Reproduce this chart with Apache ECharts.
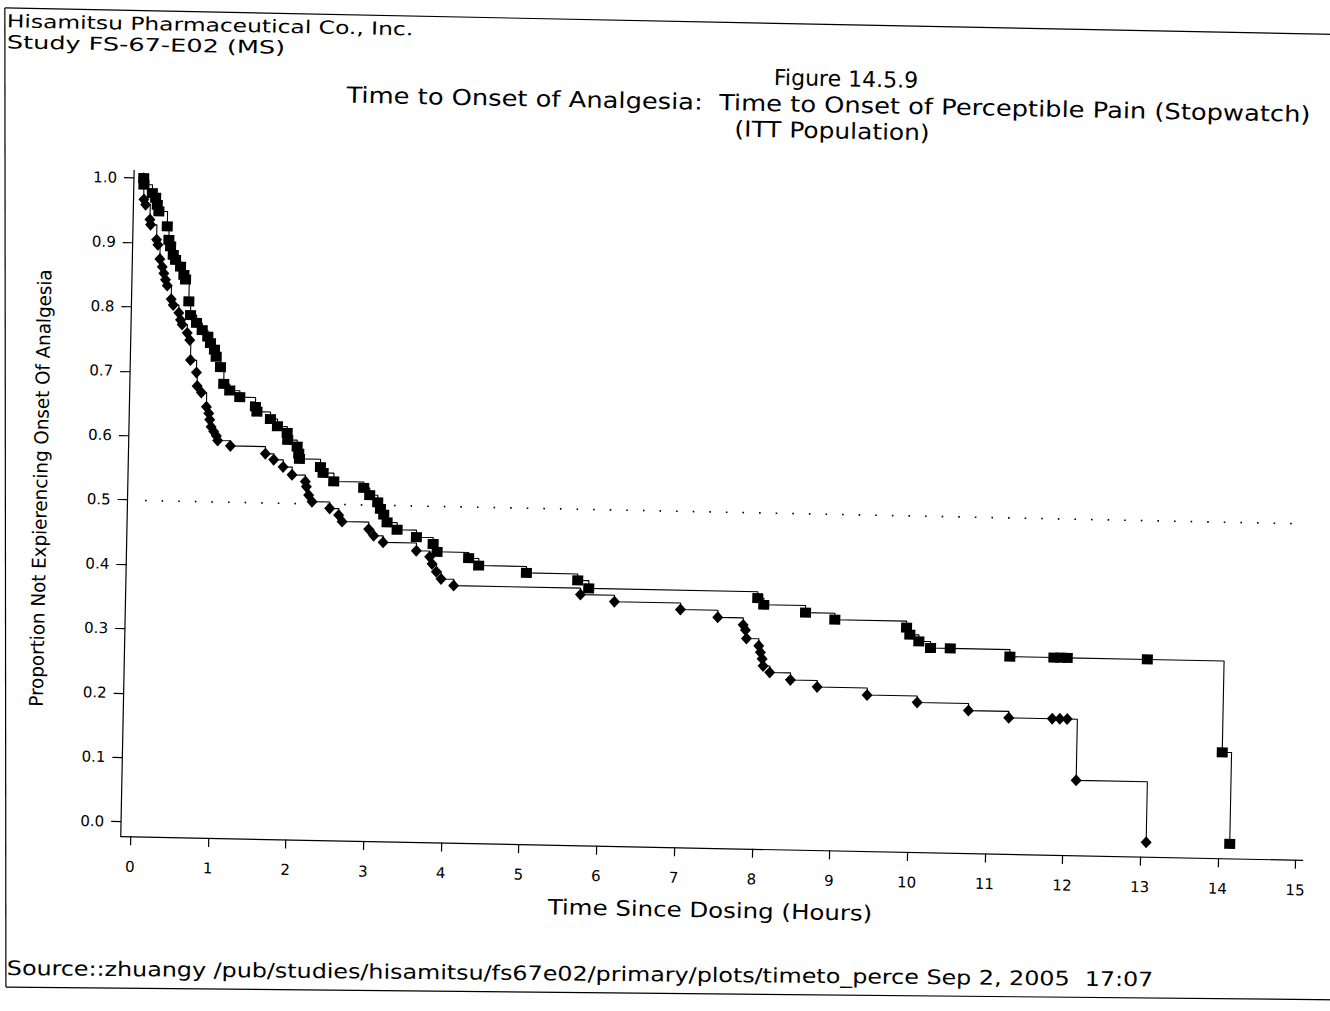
<!DOCTYPE html>
<html>
<head>
<meta charset="utf-8">
<script src="https://cdn.jsdelivr.net/npm/echarts@6/dist/echarts.min.js"></script>
<style>
html,body{margin:0;padding:0;width:1330px;height:1011px;overflow:hidden;background:#fff}
#wrap{position:absolute;left:-20px;top:-20px;width:1370px;height:1051px;transform:rotate(1.15deg);transform-origin:50% 50%;}
#chart{width:1370px;height:1051px}
</style>
</head>
<body>
<div id="wrap"><div id="chart"></div></div>
<script>
// Upper curve (squares): time in hours, proportion not experiencing onset
const sqTime = [0.0, 0.005, 0.115, 0.159, 0.182, 0.204, 0.316, 0.340, 0.364, 0.400, 0.431, 0.497, 0.542, 0.565, 0.613, 0.638, 0.717, 0.792, 0.866, 0.902, 0.955, 0.979, 1.037, 1.083, 1.162, 1.293, 1.497, 1.518, 1.693, 1.785, 1.912, 1.921, 2.044, 2.066, 2.077, 2.349, 2.385, 2.524, 2.911, 2.990, 3.095, 3.132, 3.176, 3.221, 3.352, 3.602, 3.819, 3.872, 4.280, 4.411, 5.027, 5.689, 5.833, 8.011, 8.090, 8.629, 9.008, 9.933, 9.977, 10.095, 10.247, 10.501, 11.270, 11.837, 11.923, 12.009, 13.040, 14.028, 14.148];
const sqSurv = [1.000, 0.990, 0.977, 0.970, 0.959, 0.949, 0.926, 0.905, 0.895, 0.882, 0.874, 0.864, 0.851, 0.844, 0.810, 0.789, 0.777, 0.766, 0.756, 0.746, 0.736, 0.725, 0.709, 0.683, 0.673, 0.663, 0.649, 0.641, 0.630, 0.619, 0.609, 0.598, 0.588, 0.577, 0.569, 0.557, 0.548, 0.535, 0.526, 0.515, 0.504, 0.494, 0.485, 0.473, 0.462, 0.451, 0.441, 0.429, 0.420, 0.409, 0.399, 0.389, 0.377, 0.367, 0.357, 0.346, 0.336, 0.326, 0.315, 0.305, 0.295, 0.295, 0.284, 0.284, 0.284, 0.284, 0.284, 0.142, 0.000];
// Lower curve (diamonds)
const dmTime = [0.0, 0.008, 0.032, 0.091, 0.101, 0.182, 0.200, 0.229, 0.262, 0.284, 0.307, 0.331, 0.385, 0.413, 0.487, 0.510, 0.533, 0.600, 0.635, 0.649, 0.729, 0.741, 0.798, 0.866, 0.898, 0.912, 0.932, 0.966, 1.002, 1.020, 1.185, 1.637, 1.746, 1.869, 1.986, 2.159, 2.173, 2.205, 2.250, 2.479, 2.596, 2.642, 2.986, 3.052, 3.175, 3.605, 3.778, 3.811, 3.868, 3.930, 4.094, 5.728, 6.167, 7.019, 7.501, 7.830, 7.861, 7.876, 8.036, 8.059, 8.083, 8.097, 8.184, 8.452, 8.798, 9.443, 10.089, 10.751, 11.272, 11.831, 11.929, 12.024, 12.155, 13.072];
const dmSurv = [1.000, 0.967, 0.959, 0.936, 0.928, 0.905, 0.897, 0.875, 0.863, 0.853, 0.843, 0.834, 0.813, 0.804, 0.792, 0.781, 0.774, 0.761, 0.750, 0.719, 0.700, 0.679, 0.669, 0.647, 0.637, 0.627, 0.616, 0.609, 0.602, 0.595, 0.587, 0.576, 0.567, 0.556, 0.544, 0.534, 0.526, 0.513, 0.503, 0.493, 0.483, 0.473, 0.462, 0.452, 0.442, 0.430, 0.421, 0.410, 0.398, 0.387, 0.377, 0.367, 0.357, 0.347, 0.336, 0.325, 0.317, 0.304, 0.293, 0.283, 0.273, 0.262, 0.252, 0.241, 0.231, 0.220, 0.210, 0.199, 0.189, 0.189, 0.189, 0.189, 0.094, 0.000];
// Reference level (median) and its extent in hours
const refLevel = [0.5];
const refSpan = [0.1, 15.05];
// Tick values
const xTicks = [0, 1, 2, 3, 4, 5, 6, 7, 8, 9, 10, 11, 12, 13, 14, 15];
const yTicks = [0.0, 0.1, 0.2, 0.3, 0.4, 0.5, 0.6, 0.7, 0.8, 0.9, 1.0];
// Texts
const headerLines = ['Hisamitsu Pharmaceutical Co., Inc.', 'Study FS-67-E02 (MS)'];
const titleLines = ['Figure 14.5.9', 'Time to Onset of Analgesia:  Time to Onset of Perceptible Pain (Stopwatch)', '(ITT Population)'];
const xName = 'Time Since Dosing (Hours)';
const yName = 'Proportion Not Expierencing Onset Of Analgesia';
const sourceText = 'Source::zhuangy /pub/studies/hisamitsu/fs67e02/primary/plots/timeto_perce Sep 2, 2005  17:07';

const FONT = "'DejaVu Sans', Verdana, sans-serif";
const NARROW = "'DejaVu Sans Condensed', 'Liberation Sans Narrow', 'Roboto Condensed', 'DejaVu Sans', sans-serif";

const sqData = sqTime.map((t, i) => [t, sqSurv[i]]);
const dmData = dmTime.map((t, i) => [t, dmSurv[i]]);

const chart = echarts.init(document.getElementById('chart'), null, {renderer: 'svg'});

function txt(text, x, y, size, opts) {
  opts = opts || {};
  const el = {
    type: 'text', x: x, y: y, silent: true,
    scaleX: opts.sx || 1,
    style: Object.assign({text: text, fill: '#000', fontSize: size, fontFamily: FONT, align: 'center', verticalAlign: 'middle'}, opts.style || {})
  };
  if (opts.rotation !== undefined) el.rotation = opts.rotation;
  return el;
}
function ln(x1, y1, x2, y2) {
  return {type: 'line', silent: true, shape: {x1: x1, y1: y1, x2: x2, y2: y2}, style: {stroke: '#000', lineWidth: 1.2}};
}
const footTilt = 0.6 * Math.PI / 180;

const option = {
  animation: false,
  backgroundColor: '#fff',
  grid: {left: 147.6, top: 201, right: 40.4, bottom: 184, containLabel: false},
  xAxis: {
    type: 'value', min: -0.124, max: 15.09,
    axisLine: {show: true, onZero: false, lineStyle: {color: '#000', width: 1.2}},
    axisTick: {show: true, length: 9, inside: false, customValues: xTicks, lineStyle: {color: '#000', width: 1.2}},
    axisLabel: {show: true, customValues: xTicks, margin: 23, fontSize: 15, color: '#000', fontFamily: FONT, formatter: v => String(Math.round(v))},
    splitLine: {show: false}
  },
  yAxis: {
    type: 'value', min: -0.0224, max: 1.012,
    axisLine: {show: true, onZero: false, lineStyle: {color: '#000', width: 1.2}},
    axisTick: {show: true, length: 10, inside: false, customValues: yTicks, lineStyle: {color: '#000', width: 1.2}},
    axisLabel: {show: true, customValues: yTicks, margin: 17, fontSize: 15, color: '#000', fontFamily: FONT, formatter: v => v.toFixed(1)},
    splitLine: {show: false}
  },
  series: [
    {
      name: 'Diamond group', type: 'line', step: 'end', data: dmData,
      symbol: 'diamond', symbolSize: [11, 12], showAllSymbol: true,
      itemStyle: {color: '#000'}, lineStyle: {color: '#000', width: 1.1},
      markLine: {
        silent: true, symbol: 'none', label: {show: false},
        lineStyle: {color: '#000', width: 1.6, type: [1.6, 15]},
        data: [[{coord: [refSpan[0], refLevel[0]]}, {coord: [refSpan[1], refLevel[0]]}]]
      },
      z: 2
    },
    {
      name: 'Square group', type: 'line', step: 'end', data: sqData,
      symbol: 'rect', symbolSize: [11, 10], showAllSymbol: true,
      itemStyle: {color: '#000'}, lineStyle: {color: '#000', width: 1.1},
      z: 3
    }
  ],
  graphic: [
    txt(headerLines[0], 17.3, 54.5, 18, {sx: 1.30, style: {align: 'left'}}),
    txt(headerLines[1], 17.7, 75, 18, {sx: 1.42, style: {align: 'left'}}),
    txt(titleLines[0], 857.4, 95.4, 22),
    txt(titleLines[1], 840.4, 121.7, 22, {sx: 1.17}),
    txt(titleLines[2], 844.5, 147.6, 22, {sx: 1.13}),
    txt(xName, 738.1, 929.1, 21, {sx: 1.165}),
    txt(yName, 60.6, 520.5, 19, {sx: 1.07, rotation: Math.PI / 2, style: {fontFamily: NARROW}}),
    txt(sourceText, 36.3, 1001.2, 20, {sx: 1.19, rotation: footTilt, style: {align: 'left'}}),
    ln(15, 41.3, 1370, 41.1),
    ln(15, 41.3, 35.7, 1020.2),
    ln(35.7, 1020.2, 1370, 1006.2)
  ]
};
chart.setOption(option);
</script>
</body>
</html>
